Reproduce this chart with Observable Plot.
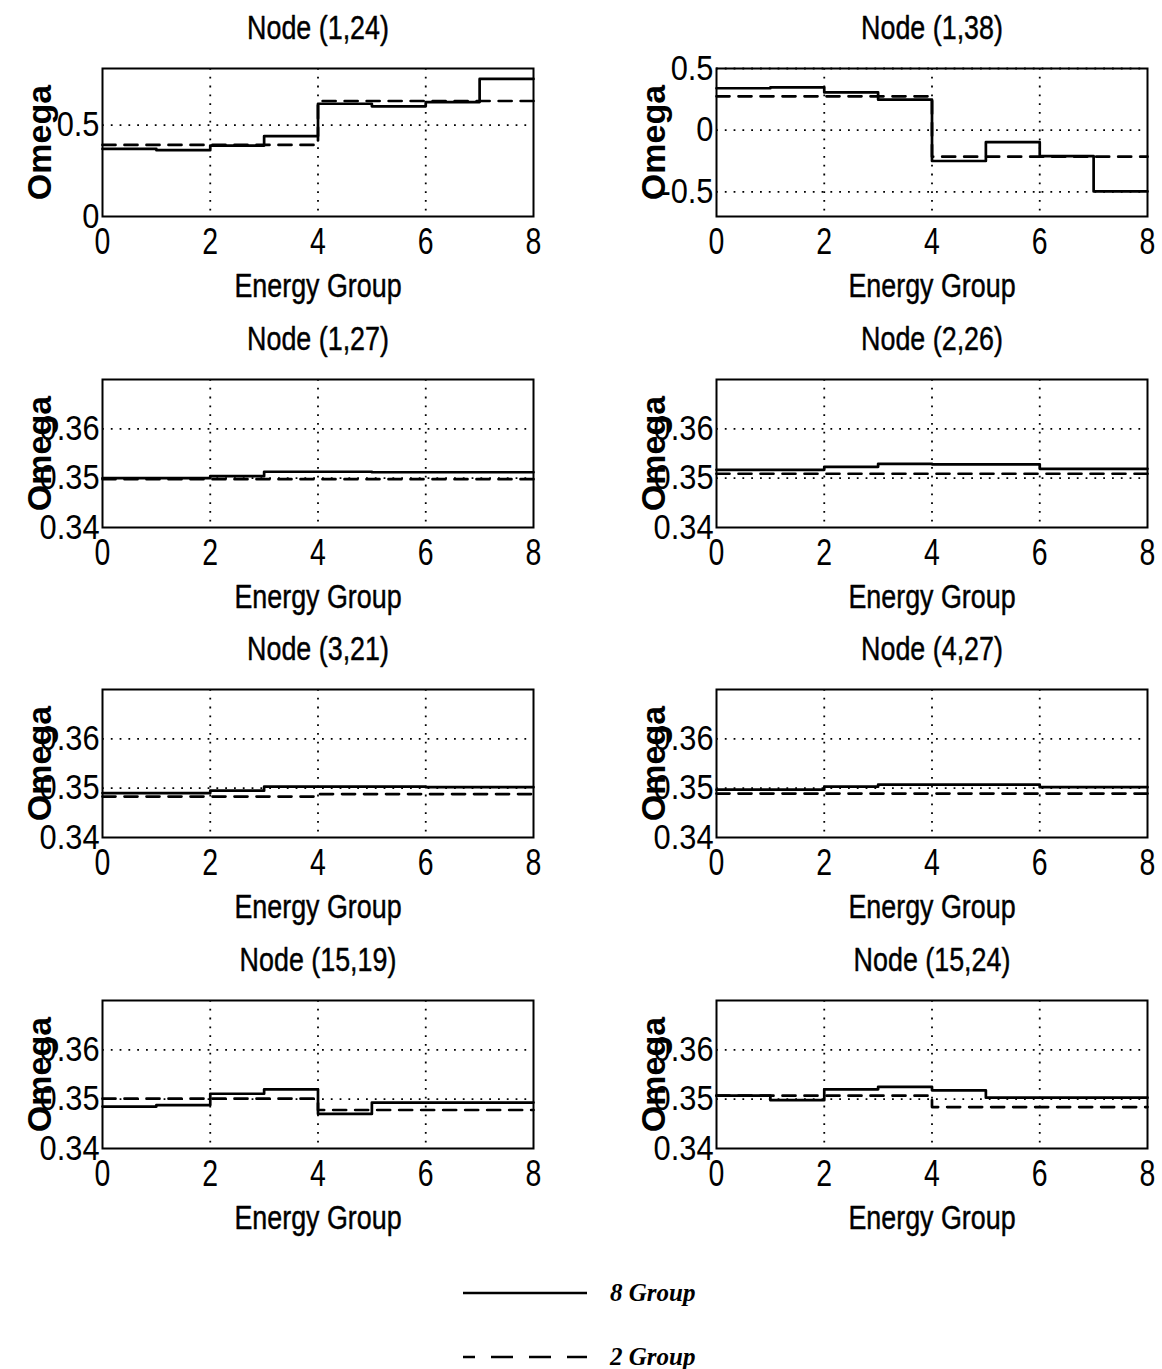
<!DOCTYPE html>
<html>
<head>
<meta charset="utf-8">
<script src="https://cdn.jsdelivr.net/npm/d3@7"></script>
<script src="https://cdn.jsdelivr.net/npm/@observablehq/plot@0.6"></script>
<style>
  html, body { margin: 0; padding: 0; background: #fff; }
  #root { position: relative; width: 1162px; height: 1369px; background: #fff; overflow: hidden; }
  .panel { position: absolute; }
  .panel svg { overflow: visible; max-width: none !important; }
</style>
</head>
<body>
<div id="root"></div>
<script>
// ---------- data ----------
const nodeTitles = ["Node (1,24)", "Node (1,38)", "Node (1,27)", "Node (2,26)",
                    "Node (3,21)", "Node (4,27)", "Node (15,19)", "Node (15,24)"];
const edges8 = [0, 1, 2, 3, 4, 5, 6, 7, 8];   // 8-group boundaries
const edges2 = [0, 4, 8];                     // 2-group boundaries
const xTicks = [0, 2, 4, 6, 8];

// 8 Group omega per energy group (solid)
const omega8 = [
  [0.370, 0.363, 0.388, 0.440, 0.617, 0.603, 0.626, 0.753],
  [0.340, 0.347, 0.306, 0.247, -0.250, -0.097, -0.210, -0.497],
  [0.3500, 0.3500, 0.3504, 0.3513, 0.3513, 0.3512, 0.3512, 0.3512],
  [0.3517, 0.3517, 0.3523, 0.3529, 0.3528, 0.3528, 0.3519, 0.3519],
  [0.3490, 0.3490, 0.3495, 0.3503, 0.3503, 0.3503, 0.3502, 0.3502],
  [0.3497, 0.3497, 0.3503, 0.3507, 0.3507, 0.3507, 0.3502, 0.3502],
  [0.3485, 0.3488, 0.3511, 0.3520, 0.3470, 0.3493, 0.3493, 0.3493],
  [0.3507, 0.3498, 0.3520, 0.3525, 0.3518, 0.3503, 0.3503, 0.3503]
];
// 2 Group omega (dashed)
const omega2 = [
  [0.392, 0.632],
  [0.274, -0.215],
  [0.3498, 0.3498],
  [0.3509, 0.3509],
  [0.3483, 0.3488],
  [0.3489, 0.3489],
  [0.3501, 0.3478],
  [0.3507, 0.3484]
];
const yDomains = [[0, 0.81], [-0.7, 0.5], [0.34, 0.37], [0.34, 0.37],
                  [0.34, 0.37], [0.34, 0.37], [0.34, 0.37], [0.34, 0.37]];
const yTicks = [[0, 0.5], [-0.5, 0, 0.5], [0.34, 0.35, 0.36], [0.34, 0.35, 0.36],
                [0.34, 0.35, 0.36], [0.34, 0.35, 0.36], [0.34, 0.35, 0.36], [0.34, 0.35, 0.36]];
const xLabel = "Energy Group";
const yLabel = "Omega";
const legendLabels = ["8 Group", "2 Group"];

// ---------- layout ----------
const SANS = "'Liberation Sans', Arial, Helvetica, sans-serif";
const frameW = 431, frameH = 148;
const mL = 100, mR = 15, mT = 62, mB = 90;
const colFrameLeft = [102, 716];
const rowFrameTop = [68, 378.5, 689, 999.5];
const SX = 0.79;      // horizontal condensing of titles, x ticks, x label
const SX_Y = 0.88;    // horizontal condensing of y tick labels

function stairs(edges, vals) {
  return edges.map((e, i) => ({x: e, y: vals[Math.min(i, vals.length - 1)]}));
}

const root = document.getElementById("root");
const charts = [];
const textInk = {fill: "#000", stroke: "#000", strokeWidth: 0.45};

nodeTitles.forEach((title, k) => {
  const col = k % 2, row = Math.floor(k / 2);
  const s8 = stairs(edges8, omega8[k]);
  const s2 = stairs(edges2, omega2[k]);
  const fmt = d => (d === 0 ? "0" : String(d));
  const chart = Plot.plot({
    width: mL + frameW + mR,
    height: mT + frameH + mB,
    marginLeft: mL, marginRight: mR, marginTop: mT, marginBottom: mB,
    style: {background: "transparent", color: "#000"},
    x: {domain: [0, 8]},
    y: {domain: yDomains[k]},
    marks: [
      // dotted grid
      Plot.gridX(xTicks.slice(1, -1), {stroke: "#000", strokeOpacity: 1, strokeWidth: 1.8, strokeDasharray: "1.8,7"}),
      Plot.gridY(yTicks[k].filter(t => t !== yDomains[k][0]), {stroke: "#000", strokeOpacity: 1, strokeWidth: 1.8, strokeDasharray: "1.8,7"}),
      // series
      Plot.lineY(s2, {x: "x", y: "y", curve: "step-after", stroke: "#000", strokeWidth: 2.7, strokeDasharray: "13,9"}),
      Plot.lineY(s8, {x: "x", y: "y", curve: "step-after", stroke: "#000", strokeWidth: 2.7}),
      Plot.frame({stroke: "#000", strokeWidth: 2}),
      Plot.axisX(xTicks, {tickSize: 0, tickPadding: 12, fontSize: 36, fontFamily: SANS, label: null, tickFormat: d => String(d), ...textInk}),
      Plot.axisY(yTicks[k], {tickSize: 0, tickPadding: 3, fontSize: 35, fontFamily: SANS, label: null, tickFormat: fmt, ...textInk}),
      Plot.text([title], {frameAnchor: "top", dy: -40, fontSize: 34, fontFamily: SANS, lineAnchor: "middle", textAnchor: "middle", ...textInk}),
      Plot.text([xLabel], {frameAnchor: "bottom", dy: 70, fontSize: 34, fontFamily: SANS, lineAnchor: "middle", textAnchor: "middle", ...textInk}),
      Plot.text([yLabel], {frameAnchor: "left", dx: -62, rotate: -90, fontSize: 34, fontWeight: "bold", fontFamily: SANS, lineAnchor: "middle", textAnchor: "middle", fill: "#000"})
    ]
  });
  const div = document.createElement("div");
  div.className = "panel";
  div.style.left = (colFrameLeft[col] - mL) + "px";
  div.style.top = (rowFrameTop[row] - mT) + "px";
  div.style.width = (mL + frameW + mR) + "px";
  div.appendChild(chart);
  root.appendChild(div);
  charts.push(chart);
});

// condense the Helvetica-like texts horizontally (the reference uses a narrow face)
charts.forEach(svg => {
  svg.querySelectorAll("text").forEach(t => {
    if (t.textContent === yLabel) return;
    const isY = !!t.closest('[aria-label="y-axis tick label"]');
    const len = t.getComputedTextLength();
    if (len > 0) {
      t.setAttribute("textLength", (len * (isY ? SX_Y : SX)).toFixed(2));
      t.setAttribute("lengthAdjust", "spacingAndGlyphs");
    }
  });
});

// ---------- legend ----------
const legend = d3.create("svg").attr("width", 400).attr("height", 107)
  .style("position", "absolute").style("left", "450px").style("top", "1262px");
const styles = [{dash: null, off: 0}, {dash: "22,16", off: 10}];
legendLabels.forEach((lab, i) => {
  const y = 31 + i * 64;
  legend.append("line").attr("x1", 13).attr("x2", 137).attr("y1", y).attr("y2", y)
    .attr("stroke", "#000").attr("stroke-width", 2.6)
    .attr("stroke-dasharray", styles[i].dash)
    .attr("stroke-dashoffset", styles[i].off);
  legend.append("text").attr("x", 160).attr("y", y).attr("dy", "0.33em")
    .attr("font-family", "'Liberation Serif', 'Times New Roman', serif")
    .attr("font-style", "italic").attr("font-weight", "bold").attr("font-size", 25)
    .text(lab);
});
root.appendChild(legend.node());
</script>
</body>
</html>
